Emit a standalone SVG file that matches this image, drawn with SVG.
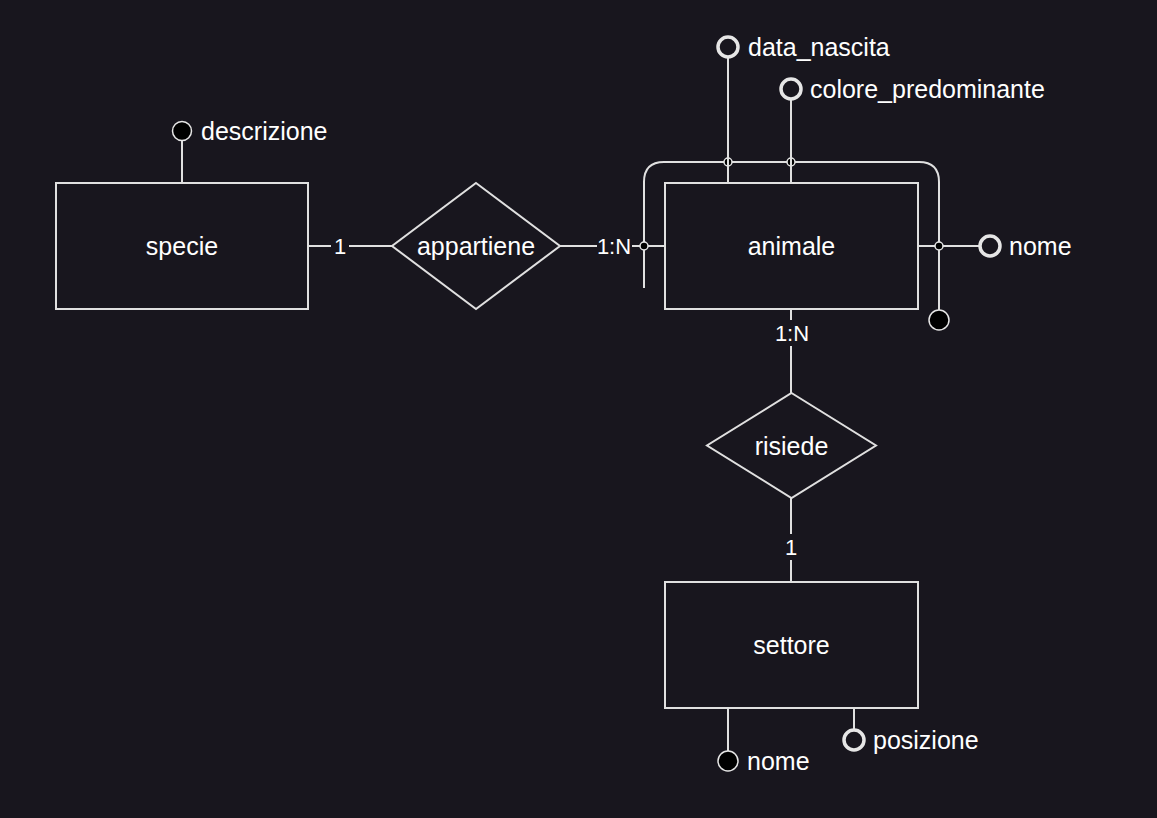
<svg xmlns="http://www.w3.org/2000/svg" width="1157" height="818" viewBox="0 0 1157 818">
<style>
.ln{stroke:#e0e0e0;stroke-width:2;fill:none}
.box{stroke:#e0e0e0;stroke-width:2;fill:#18161e}
.t{font-family:"Liberation Sans",Arial,sans-serif;font-size:25px;fill:#ffffff;dominant-baseline:central}
.c{font-family:"Liberation Sans",Arial,sans-serif;font-size:22px;fill:#ffffff;dominant-baseline:central;text-anchor:middle}
.mid{text-anchor:middle}
.hollow{fill:#18161e;stroke:#e6e6e6;stroke-width:3.5}
.key{fill:#000000;stroke:#e6e6e6;stroke-width:1.5}
.jn{fill:#000000;stroke:#e6e6e6;stroke-width:1.5}
.lb{fill:#18161e}
</style>
<rect x="0" y="0" width="1157" height="818" fill="#18161e"/>
<g id="connectors">
<line class="ln" x1="309" y1="246" x2="392" y2="246"/>
<line class="ln" x1="560" y1="246" x2="665" y2="246"/>
<line class="ln" x1="791" y1="309" x2="791" y2="393"/>
<line class="ln" x1="791" y1="498" x2="791" y2="582"/>
<rect class="lb" x="331" y="232" width="18" height="28"/>
<text class="c" x="340" y="246">1</text>
<rect class="lb" x="597" y="232" width="35" height="28"/>
<text class="c" x="614" y="246">1:N</text>
<rect class="lb" x="772" y="320" width="38" height="26"/>
<text class="c" x="792" y="333">1:N</text>
<rect class="lb" x="780" y="534" width="22" height="26"/>
<text class="c" x="791" y="547">1</text>
</g>
<g id="specie">
<rect class="box" x="56" y="183" width="252" height="126"/>
<text class="t mid" x="182" y="246">specie</text>
</g>
<g id="attr-descrizione">
<line class="ln" x1="182" y1="141" x2="182" y2="183"/>
<circle class="key" cx="182" cy="131" r="9.5"/>
<text class="t" x="201" y="131">descrizione</text>
</g>
<g id="appartiene">
<polygon class="box" points="476,183 560,246 476,309 392,246"/>
<text class="t mid" x="476" y="246">appartiene</text>
</g>
<g id="identifier-animale">
<path class="ln" d="M644,288 V182 Q644,162 664,162 H919 Q939,162 939,182 V310"/>
<line class="ln" x1="918" y1="246" x2="979" y2="246"/>
<circle class="jn" cx="644" cy="246" r="4"/>
<circle class="jn" cx="728" cy="162" r="4"/>
<circle class="jn" cx="791" cy="162" r="4"/>
<circle class="jn" cx="939" cy="246" r="4"/>
<circle class="key" cx="939" cy="320" r="10"/>
</g>
<g id="animale">
<rect class="box" x="665" y="183" width="253" height="126"/>
<text class="t mid" x="791.5" y="246">animale</text>
</g>
<g id="attr-data_nascita">
<line class="ln" x1="728" y1="58" x2="728" y2="183"/>
<circle class="hollow" cx="728" cy="47" r="10"/>
<text class="t" x="748" y="47">data_nascita</text>
</g>
<g id="attr-colore_predominante">
<line class="ln" x1="791" y1="100" x2="791" y2="183"/>
<circle class="hollow" cx="791" cy="89" r="10"/>
<text class="t" x="810" y="89">colore_predominante</text>
</g>
<g id="attr-nome-animale">
<circle class="hollow" cx="990" cy="246" r="10"/>
<text class="t" x="1009" y="246">nome</text>
</g>
<g id="risiede">
<polygon class="box" points="791.5,393 876,445.5 791.5,498 707,445.5"/>
<text class="t mid" x="791.5" y="445.5">risiede</text>
</g>
<g id="settore">
<rect class="box" x="665" y="582" width="253" height="126"/>
<text class="t mid" x="791.5" y="645">settore</text>
</g>
<g id="attr-nome-settore">
<line class="ln" x1="728" y1="708" x2="728" y2="751"/>
<circle class="key" cx="728" cy="761" r="10"/>
<text class="t" x="747" y="761">nome</text>
</g>
<g id="attr-posizione">
<line class="ln" x1="854" y1="708" x2="854" y2="729"/>
<circle class="hollow" cx="854" cy="740" r="10"/>
<text class="t" x="873" y="740">posizione</text>
</g>
</svg>
